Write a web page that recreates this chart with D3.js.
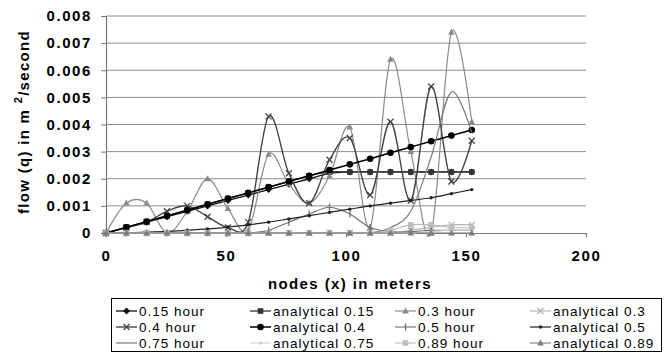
<!DOCTYPE html>
<html>
<head>
<meta charset="utf-8">
<script src="https://cdn.jsdelivr.net/npm/d3@7"></script>
<style>
  body { margin: 0; background: #fff; }
  svg { display: block; font-family: "Liberation Sans", Arial, sans-serif; }
</style>
</head>
<body>
<svg id="chart" width="667" height="356"></svg>
<script>
// Node positions along the slope (m)
const nodes = [0, 8.47, 16.93, 25.4, 33.87, 42.33, 50.8, 59.27, 67.73, 76.2,
               84.67, 93.13, 101.6, 110.07, 118.53, 127, 135.47, 143.93, 152.4];

// Flow per unit width q (m^2/s) at each node
const q015  = [0, 0.0002, 0.0004, 0.0006, 0.0008, 0.001, 0.0012, 0.0014, 0.0016, 0.0018,
               0.002, 0.0022, 0.00225, 0.00225, 0.00225, 0.00225, 0.00225, 0.00225, 0.00225];
const qA015 = [0, 0.00021, 0.00042, 0.00063, 0.00084, 0.00106, 0.00127, 0.00148, 0.00169, 0.0019,
               0.00211, 0.00225, 0.00225, 0.00225, 0.00225, 0.00225, 0.00225, 0.00225, 0.00225];
const q03   = [0, 0.0011, 0.0011, 0, 0.0008, 0.002, 0.0009, 0.0001, 0.0029, 0.0018,
               0.0011, 0.0021, 0.0039, 0.0002, 0.0064, 0.003, 0, 0.0074, 0.0041];
const qA03  = [0, 0, 0, 0, 0, 0, 0, 0, 0, 0,
               0, 0, 0, 0, 0, 0.0001, 0.0002, 0.0003, 0.0003];
const q04   = [0, 0.0002, 0.0004, 0.0008, 0.001, 0.0006, 0.0002, 0.0004, 0.0043, 0.0022,
               0.0011, 0.0027, 0.0035, 0.0014, 0.0041, 0.0012, 0.0054, 0.0019, 0.0034];
const qA04  = [0, 0.00021, 0.00042, 0.00063, 0.00084, 0.00106, 0.00127, 0.00148, 0.00169, 0.0019,
               0.00211, 0.00232, 0.00253, 0.00274, 0.00296, 0.00317, 0.00338, 0.00359, 0.0038];
const q05   = [0, 0, 0, 0, 0, 0, 0, 0, 0.0001, 0.0004,
               0.0007, 0.00095, 0.0007, 0.0002, 0.00005, 0.00005, 0.0001, 0.0001, 0.0001];
const qA05  = [0, 0.00001, 0.00003, 0.00006, 0.0001, 0.00015, 0.00022, 0.0003, 0.0004, 0.00052,
               0.00064, 0.00076, 0.00088, 0.001, 0.0011, 0.0012, 0.0013, 0.00145, 0.0016];
const q075  = [0, 0, 0, 0, 0, 0, 0, 0, 0, 0,
               0, 0, 0, 0, 0.0002, 0.0008, 0.0028, 0.0052, 0.0037];
const qA075 = [0, 0, 0, 0, 0, 0, 0, 0, 0, 0,
               0, 0, 0, 0, 0, 0, 0.00005, 0.0001, 0.0001];
const q089  = [0, 0, 0, 0, 0, 0, 0, 0, 0, 0,
               0, 0, 0, 0, 0.0001, 0.0003, 0.0003, 0.0002, 0.0002];
const qA089 = [0, 0, 0, 0, 0, 0, 0, 0, 0, 0,
               0, 0, 0, 0, 0, 0, 0, 0, 0];

const seriesNames = ["0.15 hour", "analytical 0.15", "0.3 hour", "analytical 0.3",
                     "0.4 hour", "analytical 0.4", "0.5 hour", "analytical 0.5",
                     "0.75 hour", "analytical 0.75", "0.89 hour", "analytical 0.89"];
const seriesValues = [q015, qA015, q03, qA03, q04, qA04, q05, qA05, q075, qA075, q089, qA089];

const xTicks = [0, 50, 100, 150, 200];
const yTicks = [0, 0.001, 0.002, 0.003, 0.004, 0.005, 0.006, 0.007, 0.008];
const yTickLabels = ["0", "0.001", "0.002", "0.003", "0.004", "0.005", "0.006", "0.007", "0.008"];

// Line colour and marker for each series, in legend order
const styles = [
  { color: "#111", marker: "diamond", width: 1.3 },
  { color: "#333", marker: "square",  width: 1.3 },
  { color: "#8a8a8a", marker: "triangle", width: 1.2 },
  { color: "#b0b0b0", marker: "x",   width: 1.1 },
  { color: "#444", marker: "x",      width: 1.4 },
  { color: "#000", marker: "circle", width: 1.5 },
  { color: "#6e6e6e", marker: "plus", width: 1.1 },
  { color: "#222", marker: "dot",    width: 1.2 },
  { color: "#7a7a7a", marker: "none", width: 1.2 },
  { color: "#cfcfcf", marker: "dot",  width: 1.1 },
  { color: "#bdbdbd", marker: "square", width: 1.1 },
  { color: "#7c7c7c", marker: "triangle", width: 1.1 }
];

const svg = d3.select("#chart");
const x = d3.scaleLinear().domain([0, 200]).range([106, 586]);
const y = d3.scaleLinear().domain([0, 0.008]).range([233, 16]);

// Horizontal gridlines
svg.append("g").selectAll("line").data(yTicks.slice(1)).join("line")
  .attr("x1", x(0)).attr("x2", x(200))
  .attr("y1", d => y(d)).attr("y2", d => y(d))
  .attr("stroke", "#8c8c8c").attr("stroke-width", 1);

// Axes
const yAxis = svg.append("g").attr("transform", `translate(${x(0)},0)`)
  .call(d3.axisLeft(y).tickValues(yTicks).tickSize(5).tickPadding(9)
        .tickFormat((d, i) => yTickLabels[i]));
const xAxis = svg.append("g").attr("transform", `translate(0,${y(0)})`)
  .call(d3.axisBottom(x).tickValues(xTicks).tickSize(4).tickPadding(13)
        .tickFormat(d3.format("d")));
[yAxis, xAxis].forEach(g => {
  g.select(".domain").attr("stroke", "#777").attr("stroke-width", 1.2);
  g.selectAll(".tick line").attr("stroke", "#777");
  g.selectAll(".tick text").attr("fill", "#000")
    .style("font-family", "'Liberation Sans', Arial, sans-serif")
    .style("font-weight", "bold").style("font-size", "15px")
    .style("letter-spacing", "1.6px");
});

// Axis titles
svg.append("text")
  .attr("x", 350).attr("y", 289).attr("text-anchor", "middle")
  .style("font-weight", "bold").style("font-size", "15px").style("letter-spacing", "1.4px")
  .text("nodes (x) in meters");

const yt = svg.append("text")
  .attr("transform", "translate(29,122) rotate(-90)").attr("text-anchor", "middle")
  .style("font-weight", "bold").style("font-size", "15px").style("letter-spacing", "1.3px");
yt.append("tspan").text("flow (q) in m ");
yt.append("tspan").attr("dy", -7).style("font-size", "11px").text("2");
yt.append("tspan").attr("dy", 7).text("/second");

// Marker drawing
function drawMarker(g, type, color, cx, cy) {
  switch (type) {
    case "diamond":
      g.append("path").attr("d", `M${cx},${cy-3.5}L${cx+3.5},${cy}L${cx},${cy+3.5}L${cx-3.5},${cy}Z`)
        .attr("fill", color); break;
    case "square":
      g.append("rect").attr("x", cx-2.8).attr("y", cy-2.8).attr("width", 5.6).attr("height", 5.6)
        .attr("fill", color); break;
    case "triangle":
      g.append("path").attr("d", `M${cx},${cy-3.6}L${cx+3.3},${cy+2.4}L${cx-3.3},${cy+2.4}Z`)
        .attr("fill", color); break;
    case "x":
      g.append("path").attr("d", `M${cx-3},${cy-3}L${cx+3},${cy+3}M${cx-3},${cy+3}L${cx+3},${cy-3}`)
        .attr("stroke", color).attr("stroke-width", 1.3).attr("fill", "none"); break;
    case "circle":
      g.append("circle").attr("cx", cx).attr("cy", cy).attr("r", 3.3).attr("fill", color); break;
    case "plus":
      g.append("path").attr("d", `M${cx},${cy-3.5}L${cx},${cy+3.5}`)
        .attr("stroke", color).attr("stroke-width", 1.3); break;
    case "dot":
      g.append("circle").attr("cx", cx).attr("cy", cy).attr("r", 1.7).attr("fill", color); break;
  }
}

// Series lines (smoothed) and markers
const line = d3.line().x(d => x(d[0])).y(d => y(d[1])).curve(d3.curveCardinal.tension(0));
seriesValues.forEach((vals, s) => {
  const st = styles[s];
  const pts = nodes.map((n, i) => [n, vals[i]]);
  const g = svg.append("g");
  g.append("path").attr("d", line(pts)).attr("fill", "none")
    .attr("stroke", st.color).attr("stroke-width", st.width);
  pts.forEach(p => drawMarker(g, st.marker, st.color, x(p[0]), y(p[1])));
});

// Legend
const legend = svg.append("g");
legend.append("rect").attr("x", 111.5).attr("y", 298.5).attr("width", 550).attr("height", 53)
  .attr("fill", "#fff").attr("stroke", "#000").attr("stroke-width", 1);
const colX = [139, 273, 418, 553];
const rowY = [311, 327, 343];
seriesNames.forEach((name, i) => {
  const cx = colX[i % 4], cy = rowY[Math.floor(i / 4)];
  const st = styles[i];
  legend.append("line").attr("x1", cx - 23).attr("x2", cx - 2).attr("y1", cy).attr("y2", cy)
    .attr("stroke", st.color).attr("stroke-width", st.width);
  drawMarker(legend, st.marker, st.color, cx - 12.5, cy);
  legend.append("text").attr("x", cx).attr("y", cy).attr("dy", "0.36em")
    .style("font-size", "13.5px").style("letter-spacing", "1px").text(name);
});
</script>
</body>
</html>
